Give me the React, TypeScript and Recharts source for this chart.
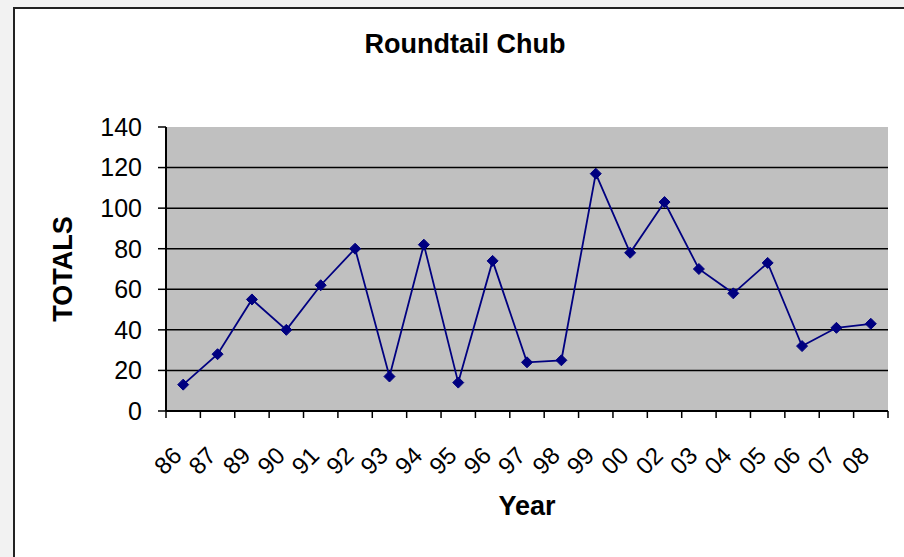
import { LineChart, Line, XAxis, YAxis, CartesianGrid } from 'recharts';

const YEARS = ['86', '87', '89', '90', '91', '92', '93', '94', '95', '96', '97', '98', '99', '00', '02', '03', '04', '05', '06', '07', '08'];
const TOTALS = [13, 28, 55, 40, 62, 80, 17, 82, 14, 74, 24, 25, 117, 78, 103, 70, 58, 73, 32, 41, 43];
const Y_TICKS = [0, 20, 40, 60, 80, 100, 120, 140];
const GRID_VALUES = [20, 40, 60, 80, 100, 120];

const FONT = '"Liberation Sans", Arial, sans-serif';
const PLOT_W = 722;
const BAND = PLOT_W / YEARS.length;

const data = YEARS.map((year, i) => ({ year, total: TOTALS[i] }));

function Diamond(props: any) {
  const { cx, cy } = props;
  if (cx == null || cy == null) return null;
  const r = 5.5;
  return (
    <polygon
      points={`${cx},${cy - r} ${cx + r},${cy} ${cx},${cy + r} ${cx - r},${cy}`}
      fill="#000080"
      stroke="#000080"
    />
  );
}

function YearTick(props: any) {
  const { x, y, payload, index } = props;
  const last = index === YEARS.length - 1;
  return (
    <g>
      <line x1={x - BAND / 2} y1={y} x2={x - BAND / 2} y2={y + 7} stroke="#000" strokeWidth={1.5} />
      {last && <line x1={x + BAND / 2} y1={y} x2={x + BAND / 2} y2={y + 7} stroke="#000" strokeWidth={1.5} />}
      <text
        x={x}
        y={y + 46}
        transform={`rotate(-45, ${x}, ${y + 46})`}
        textAnchor="end"
        fontSize={24}
        fontFamily={FONT}
        fill="#000"
      >
        {payload.value}
      </text>
    </g>
  );
}

export default function App() {
  return (
    <div style={{ position: 'absolute', left: 0, top: 0, width: 904, height: 557, background: '#f2f2f2', overflow: 'hidden' }}>
      <div
        style={{
          position: 'absolute', left: 13, top: 7, width: 920, height: 580,
          borderLeft: '2px solid #222', borderTop: '2px solid #222', background: '#fff',
        }}
      />
      <div
        style={{
          position: 'absolute', left: 265, width: 400, top: 29, textAlign: 'center',
          fontFamily: FONT, fontWeight: 'bold', fontSize: 27, lineHeight: '30px', color: '#000',
        }}
      >
        Roundtail Chub
      </div>
      <div style={{ position: 'absolute', left: 0, top: 0 }}>
        <LineChart width={904} height={557} data={data} margin={{ top: 127, right: 16, bottom: 0, left: 0 }}>
          <CartesianGrid
            vertical={false}
            horizontalValues={GRID_VALUES}
            stroke="#000"
            strokeWidth={1.5}
            fill="#C0C0C0"
            fillOpacity={1}
          />
          <XAxis
            dataKey="year"
            height={146}
            interval={0}
            padding={{ left: BAND / 2, right: BAND / 2 }}
            axisLine={{ stroke: '#000', strokeWidth: 2 }}
            tickLine={false}
            tickSize={0}
            tickMargin={0}
            tick={<YearTick />}
            label={(p: any) => (
              <text
                x={p.viewBox.x + p.viewBox.width / 2}
                y={p.viewBox.y + 104}
                textAnchor="middle"
                fontFamily={FONT}
                fontWeight="bold"
                fontSize={27}
                fill="#000"
              >
                Year
              </text>
            )}
          />
          <XAxis
            xAxisId="top"
            dataKey="year"
            orientation="top"
            height={0}
            padding={{ left: BAND / 2, right: BAND / 2 }}
            tick={false}
            tickLine={false}
            axisLine={{ stroke: '#808080', strokeWidth: 1.5 }}
          />
          <YAxis
            width={166}
            domain={[0, 140]}
            ticks={Y_TICKS}
            interval={0}
            tickSize={8}
            tickMargin={16}
            axisLine={{ stroke: '#000', strokeWidth: 2 }}
            tickLine={{ stroke: '#000', strokeWidth: 1.5 }}
            tick={{ fontSize: 25, fontFamily: FONT, fill: '#000' }}
            label={(p: any) => (
              <text
                x={72}
                y={p.viewBox.y + p.viewBox.height / 2}
                transform={`rotate(-90, 72, ${p.viewBox.y + p.viewBox.height / 2})`}
                textAnchor="middle"
                fontFamily={FONT}
                fontWeight="bold"
                fontSize={27}
                fill="#000"
              >
                TOTALS
              </text>
            )}
          />
          <YAxis
            yAxisId="r"
            orientation="right"
            width={0}
            domain={[0, 140]}
            tick={false}
            tickLine={false}
            axisLine={{ stroke: '#808080', strokeWidth: 1.5 }}
          />
          <Line
            type="linear"
            dataKey="total"
            stroke="#000080"
            strokeWidth={1.8}
            dot={<Diamond />}
            activeDot={false}
            isAnimationActive={false}
          />
        </LineChart>
      </div>
    </div>
  );
}
